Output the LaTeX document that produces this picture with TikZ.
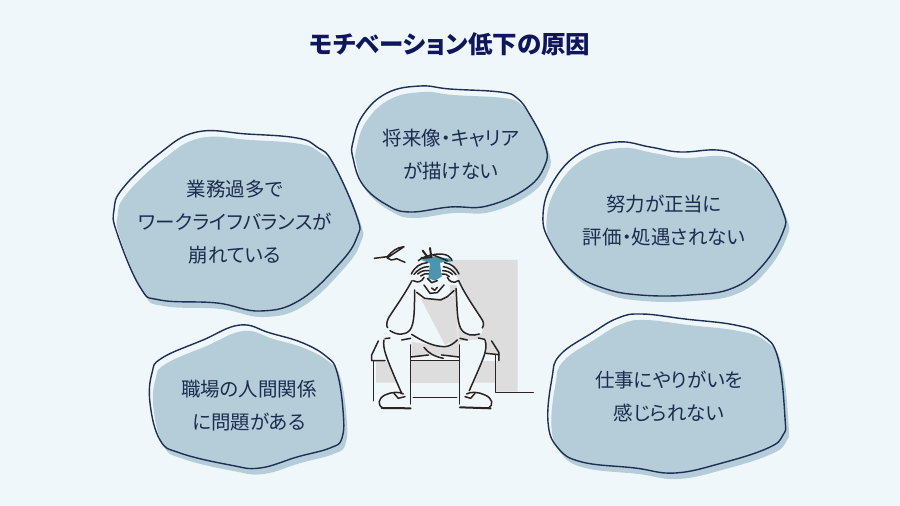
\documentclass[tikz,border=0pt]{standalone}
\usepackage{fontspec}
\setmainfont{Noto Sans CJK JP}[RawFeature=+palt]
\usetikzlibrary{calc}
\definecolor{pagebg}{HTML}{EFF7FB}
\definecolor{blobfill}{HTML}{B5CDD9}
\definecolor{blobline}{HTML}{1E2F54}
\definecolor{ink}{HTML}{1C2B4E}
\definecolor{titleink}{HTML}{10165A}
\definecolor{wall}{HTML}{DDDDDD}
\definecolor{figline}{HTML}{2A2321}
\definecolor{steam}{HTML}{4E94AE}
\tikzset{
  blobshadow/.style={fill=blobfill,draw=none,smooth cycle,tension=0.7},
  label/.style={text=ink,align=center,font=\fontsize{19.5}{33}\selectfont},
  stroke/.style={draw=figline,line width=1.5pt,line cap=round,line join=round,fill=none},
  heavy/.style={stroke,line width=2pt},
  cutout/.style={fill=pagebg,draw=none},
}
% Draws one cloud: a filled shape, and the same outline slightly up and to the left.
\newcommand{\cloud}[1]{%
  \fill[blobfill,shift={(3.5,6)}] plot[smooth cycle,tension=0.7] coordinates {#1};
  \draw[blobline,line width=1.4pt] plot[smooth cycle,tension=0.7] coordinates {#1};
}
\begin{document}
\begin{tikzpicture}[x=1pt,y=-1pt]
\useasboundingbox (0,0) rectangle (900,506);
\fill[pagebg] (0,0) rectangle (900,506);

\node[text=titleink,font=\fontsize{24.5}{30}\selectfont\bfseries] (title) at (450,44) {モチベーション低下の原因};

\cloud{(197,132)(247,134)(297,138)(317,147)(333,163)(357,217)(357,237)(340,263)(300,300)(260,311)(217,303)(160,300)(140,287)(117,233)(114,210)(123,188)(160,153)}
\cloud{(420,86)(450,89)(500,92)(517,98)(530,115)(545,145)(545,165)(527,188)(487,206)(450,207)(410,212)(387,205)(363,185)(353,158)(353,142)(363,115)(387,93)}
\cloud{(617,142)(650,147)(680,152)(717,150)(740,157)(763,175)(783,212)(783,232)(763,265)(733,288)(690,295)(640,295)(603,288)(573,272)(550,242)(543,215)(553,182)(580,153)}
\cloud{(240,325)(270,333)(303,343)(327,357)(337,372)(343,410)(342,438)(330,448)(297,457)(260,468)(230,465)(180,453)(160,440)(150,403)(152,373)(162,358)(203,340)}
\cloud{(642,314)(685,319)(735,325)(762,335)(778,358)(785,418)(783,435)(768,448)(722,463)(675,473)(635,468)(582,462)(558,448)(548,422)(552,378)(560,355)(592,333)(618,318)}

\node[label] (overwork) at (235,222.5) {業務過多で\\ワークライフバランスが\\崩れている};
\node[label] (career) at (451,154.5) {将来像・キャリア\\が描けない};
\node[label] (reward) at (664,220.5) {努力が正当に\\評価・処遇されない};
\node[label] (people) at (249,405.5) {職場の人間関係\\に問題がある};
\node[label] (purpose) at (669,396.5) {仕事にやりがいを\\感じられない};

% Seated figure, holding his head
\begin{scope}[shift={(350,230)},x=0.3333pt,y=-0.3333pt]
  % wall and bench shadow
  \fill[wall] (300,90)--(503,90)--(503,485)--(437,485)--(437,458)--(78,458)--(78,395)--(300,395)--cycle;
  % body and limbs in the page colour
  \fill[cutout] (195,165)--(320,165)--(325,285)--(350,316)--(395,310)--(402,280)--(325,150)--(300,100)--(215,100)--(185,150)--(110,280)--(118,305)--(160,316)--(185,290)--cycle;
  \fill[cutout] (65,392)--(65,372)--(85,333)--(300,333)--(180,330)--(182,392)--cycle;
  \fill[cutout] (182,195)--(320,195)--(325,325)--(182,330)--cycle;
  \fill[cutout] (105,325)--(182,335)--(182,520)--(155,495)--(100,365)--cycle;
  \fill[cutout] (328,335)--(405,325)--(410,370)--(358,490)--(328,520)--cycle;
  \fill[cutout] (65,372)--(447,372)--(447,392)--(65,392)--cycle;
  % shadow falling across the torso and lap
  \fill[wall] (212,205)--(270,205)--(320,195)--(323,325)--(285,345)--cycle;
  \fill[wall] (185,335)--(240,345)--(285,350)--(325,332)--(326,376)--(185,378)--cycle;
  \fill[wall] (183,394)--(327,394)--(327,458)--(183,458)--cycle;
  % steam-blue patch on the crown
  \fill[steam] (214,90)--(240,78)--(300,86)--(303,95)--(270,98)--(275,140)--(255,152)--(235,145)--(240,100)--cycle;
  % floor
  \draw[stroke] (437,487)--(550,487);
  \draw[stroke] (190,503)--(320,503);
  % bench
  \draw[stroke] (70,395)--(70,512);
  \draw[stroke] (437,375)--(437,485);
  \draw[stroke] (85,333)--(65,375)--(65,392)--(105,392);
  \draw[stroke] (425,333)--(447,368)--(447,392);
  \draw[stroke] (408,370)--(447,374);
  \draw[stroke] (183,392)--(328,392);
  \draw[stroke] (183,381)--(235,375);
  \draw[stroke] (275,375)--(328,381);
  % legs
  \draw[stroke] (102,330) .. controls (98,355) and (105,375) .. (155,490);
  \draw[stroke] (182,345)--(182,522);
  \draw[stroke] (328,345)--(328,522);
  \draw[stroke] (405,330) .. controls (415,360) and (400,385) .. (358,482);
  \draw[stroke] (105,326)--(120,324);
  \draw[stroke] (155,330)--(182,325);
  \draw[stroke] (330,325)--(352,330);
  \draw[stroke] (385,324)--(404,328);
  % shoes
  \draw[stroke] (100,535) .. controls (80,525) and (85,505) .. (105,495) .. controls (125,485) and (150,485) .. (160,492);
  \draw[stroke] (132,490)--(145,505)--(165,500);
  \draw[heavy] (95,534)--(182,535);
  \draw[stroke] (415,535) .. controls (432,525) and (428,505) .. (405,495) .. controls (385,485) and (360,485) .. (350,492);
  \draw[stroke] (375,490)--(362,505)--(345,500);
  \draw[heavy] (330,532)--(422,535);
  % arms
  \draw[stroke] (186,152) .. controls (160,200) and (130,240) .. (115,265) .. controls (108,280) and (110,290) .. (113,293);
  \draw[stroke] (120,302) .. controls (140,315) and (165,318) .. (180,300) .. controls (195,280) and (193,230) .. (194,180);
  \draw[stroke] (326,152) .. controls (345,195) and (385,250) .. (398,272) .. controls (403,282) and (400,290) .. (397,294);
  \draw[stroke] (388,312) .. controls (370,318) and (345,318) .. (332,295) .. controls (320,270) and (322,230) .. (318,175);
  % collar and chin
  \draw[stroke] (200,187)--(224,205)--(272,210)--(292,200)--(312,182);
  \draw[stroke] (222,165)--(240,190)--(262,188)--(282,165);
  \draw[stroke] (245,174)--(254,181)--(262,172);
  % lap folds
  \draw[stroke] (185,313) .. controls (220,335) and (250,350) .. (285,350) .. controls (300,349) and (312,340) .. (322,330);
  \draw[stroke] (222,352) .. controls (235,370) and (255,380) .. (280,385);
  % hair
  \draw[stroke] (205,92) .. controls (225,75) and (275,65) .. (295,78) .. controls (302,83) and (305,88) .. (306,92);
  \draw[heavy] (240,54)--(244,82);
  \draw[heavy] (218,62)--(232,80);
  \draw[heavy] (214,84)--(240,82);
  \draw[stroke] (250,75)--(292,92);
  % hands
  \draw[stroke] (184,132) .. controls (195,110) and (210,100) .. (232,98);
  \draw[stroke] (192,133) .. controls (205,118) and (218,110) .. (236,110);
  \draw[stroke] (203,132) .. controls (212,124) and (222,120) .. (236,122);
  \draw[stroke] (212,138) .. controls (220,132) and (228,130) .. (236,132);
  \draw[stroke] (190,152) .. controls (205,160) and (215,155) .. (222,142);
  \draw[stroke] (327,132) .. controls (318,112) and (305,102) .. (284,98);
  \draw[stroke] (318,134) .. controls (308,120) and (296,112) .. (280,110);
  \draw[stroke] (308,134) .. controls (300,126) and (290,122) .. (278,122);
  \draw[stroke] (298,140) .. controls (292,134) and (284,130) .. (276,132);
  \draw[stroke] (325,152) .. controls (310,162) and (298,155) .. (292,142);
  \draw[stroke] (232,145)--(245,158)--(262,152);
  % worry scribble
  \draw[stroke] (73,85)--(112,80) .. controls (125,65) and (140,52) .. (162,50) .. controls (145,62) and (128,72) .. (112,84) .. controls (118,90) and (125,92) .. (140,86)--(165,97);
\end{scope}
\end{tikzpicture}
\end{document}
